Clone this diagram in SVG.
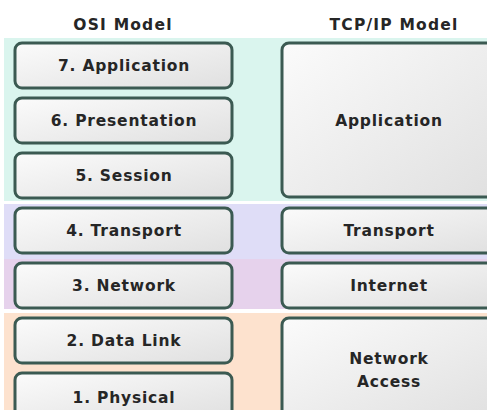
<svg xmlns="http://www.w3.org/2000/svg" width="487" height="410" viewBox="0 0 487 410">
  <defs>
    <linearGradient id="boxFill" x1="0" y1="0" x2="1" y2="1">
      <stop offset="0" stop-color="#fbfbfb"/>
      <stop offset="1" stop-color="#e0e0e0"/>
    </linearGradient>
    <style>
      .box { fill: url(#boxFill); stroke: #3b5a52; stroke-width: 3; }
      .lbl { font-family: "DejaVu Sans", "Liberation Sans", sans-serif; font-weight: bold; font-size: 15.5px; letter-spacing: 0.8px; fill: #262626; text-anchor: middle; }
      .head { font-family: "DejaVu Sans", "Liberation Sans", sans-serif; font-weight: bold; font-size: 15.5px; letter-spacing: 1.2px; fill: #262626; text-anchor: middle; }
    </style>
  </defs>

  <rect width="487" height="410" fill="#ffffff"/>

  <!-- layer colour bands -->
  <g id="bands">
    <rect x="4" y="38" width="483" height="163" fill="#daf5ee"/>
    <rect x="4" y="204" width="483" height="55" fill="#dfddf7"/>
    <rect x="4" y="259" width="483" height="50" fill="#e6d2ec"/>
    <rect x="4" y="313" width="483" height="97" fill="#fde2ce"/>
  </g>

  <!-- column headings -->
  <text class="head" x="123" y="30">OSI Model</text>
  <text class="head" x="394" y="30">TCP/IP Model</text>

  <!-- OSI layers -->
  <g id="osi7"><rect class="box" x="15" y="43" width="217" height="45" rx="7"/><text class="lbl" x="124" y="71">7. Application</text></g>
  <g id="osi6"><rect class="box" x="15" y="98" width="217" height="45" rx="7"/><text class="lbl" x="124" y="126">6. Presentation</text></g>
  <g id="osi5"><rect class="box" x="15" y="153" width="217" height="45" rx="7"/><text class="lbl" x="124" y="181">5. Session</text></g>
  <g id="osi4"><rect class="box" x="15" y="208" width="217" height="45" rx="7"/><text class="lbl" x="124" y="236">4. Transport</text></g>
  <g id="osi3"><rect class="box" x="15" y="263" width="217" height="45" rx="7"/><text class="lbl" x="124" y="291">3. Network</text></g>
  <g id="osi2"><rect class="box" x="15" y="318" width="217" height="45" rx="7"/><text class="lbl" x="124" y="346">2. Data Link</text></g>
  <g id="osi1"><rect class="box" x="15" y="373" width="217" height="45" rx="7"/><text class="lbl" x="124" y="403">1. Physical</text></g>

  <!-- TCP/IP layers -->
  <g id="tcp-app"><rect class="box" x="282" y="43" width="215" height="154" rx="7"/><text class="lbl" x="389" y="126">Application</text></g>
  <g id="tcp-transport"><rect class="box" x="282" y="208" width="215" height="45" rx="7"/><text class="lbl" x="389" y="236">Transport</text></g>
  <g id="tcp-internet"><rect class="box" x="282" y="263" width="215" height="45" rx="7"/><text class="lbl" x="389" y="291">Internet</text></g>
  <g id="tcp-netaccess"><rect class="box" x="282" y="318" width="215" height="100" rx="7"/><text class="lbl" x="389" y="364">Network</text><text class="lbl" x="389" y="387">Access</text></g>

  <g id="connectors"/>
</svg>
